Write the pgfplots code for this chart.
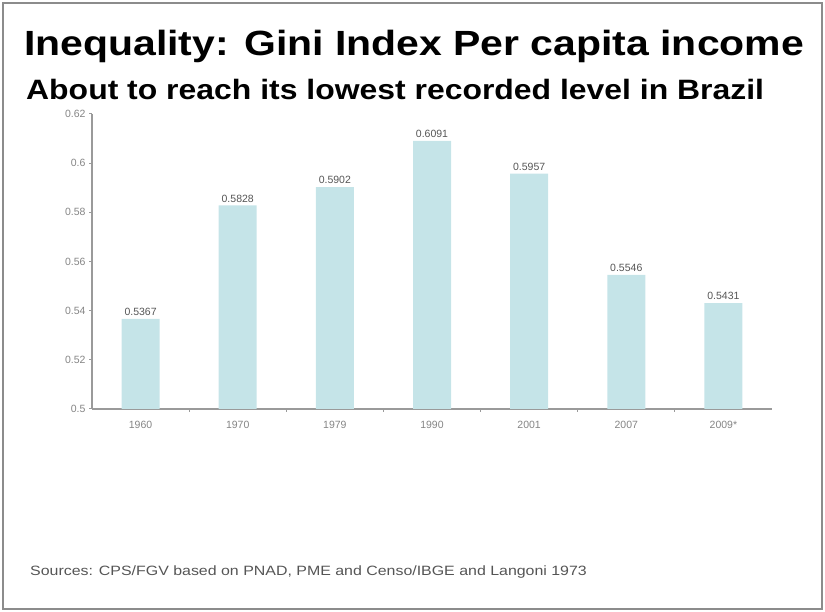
\documentclass[border=0pt]{standalone}
\usepackage{fontspec}
\setmainfont{Liberation Sans}
\usepackage{graphicx}
\usepackage{pgfplots}
\pgfplotsset{compat=1.18}

\definecolor{barfill}{HTML}{C5E4E8}
\definecolor{axisgray}{HTML}{9A9A9A}
\definecolor{ticktext}{HTML}{858585}
\definecolor{valtext}{HTML}{555555}
\definecolor{framegray}{HTML}{8C8C8C}

\begin{document}
\begin{tikzpicture}[x=1pt,y=1pt]
    % page size and frame
    \path (0,0) rectangle (825,612);
    \draw[framegray, line width=2pt] (3,3) rectangle (822,609);

    % titles
    \node[anchor=base west, inner sep=0] at (24,556)
        {\scalebox{1.17}[1]{\fontsize{35}{40}\selectfont\bfseries Inequality: Gini Index Per capita income}};
    \node[anchor=base west, inner sep=0] at (26,512)
        {\scalebox{1.14}[1]{\fontsize{28}{32}\selectfont\bfseries About to reach its lowest recorded level in Brazil}};

    \begin{axis}[
        at={(92pt,203pt)}, anchor=south west,
        scale only axis,
        width=680pt, height=295pt,
        ybar, bar width=38pt,
        xmin=-0.5, xmax=6.5,
        ymin=0.5, ymax=0.62,
        axis x line=bottom, axis y line=left,
        axis line style={-, axisgray, line width=1.2pt},
        xtick={0,1,2,3,4,5,6},
        xticklabels={1960,1970,1979,1990,2001,2007,2009*},
        major x tick style={draw=none},
        minor xtick={0.5,1.5,2.5,3.5,4.5,5.5},
        minor tick length=3pt,
        minor x tick style={axisgray, line width=1pt},
        ytick={0.5,0.52,0.54,0.56,0.58,0.6,0.62},
        yticklabels={0.5,0.52,0.54,0.56,0.58,0.6,0.62},
        major tick length=3pt,
        major y tick style={axisgray, line width=1pt},
        tick align=outside,
        ticklabel style={font=\fontsize{10.5}{12}\selectfont, text=ticktext},
        xticklabel style={yshift=-6pt},
        /pgf/number format/assume math mode=true,
        nodes near coords,
        nodes near coords style={font=\fontsize{10.5}{12}\selectfont, text=valtext,
            /pgf/number format/fixed, /pgf/number format/precision=4,
            /pgf/number format/fixed zerofill, inner sep=3pt},
    ]
        \addplot[fill=barfill, draw=none] coordinates {
            (0,0.5367) (1,0.5828) (2,0.5902) (3,0.6091)
            (4,0.5957) (5,0.5546) (6,0.5431)
        };
    \end{axis}

    % source note
    \node[anchor=base west, inner sep=0] at (30,36)
        {\scalebox{1.18}[1]{\fontsize{13.5}{15}\selectfont\color{valtext} Sources: CPS/FGV based on PNAD, PME and Censo/IBGE and Langoni 1973}};
\end{tikzpicture}
\end{document}
